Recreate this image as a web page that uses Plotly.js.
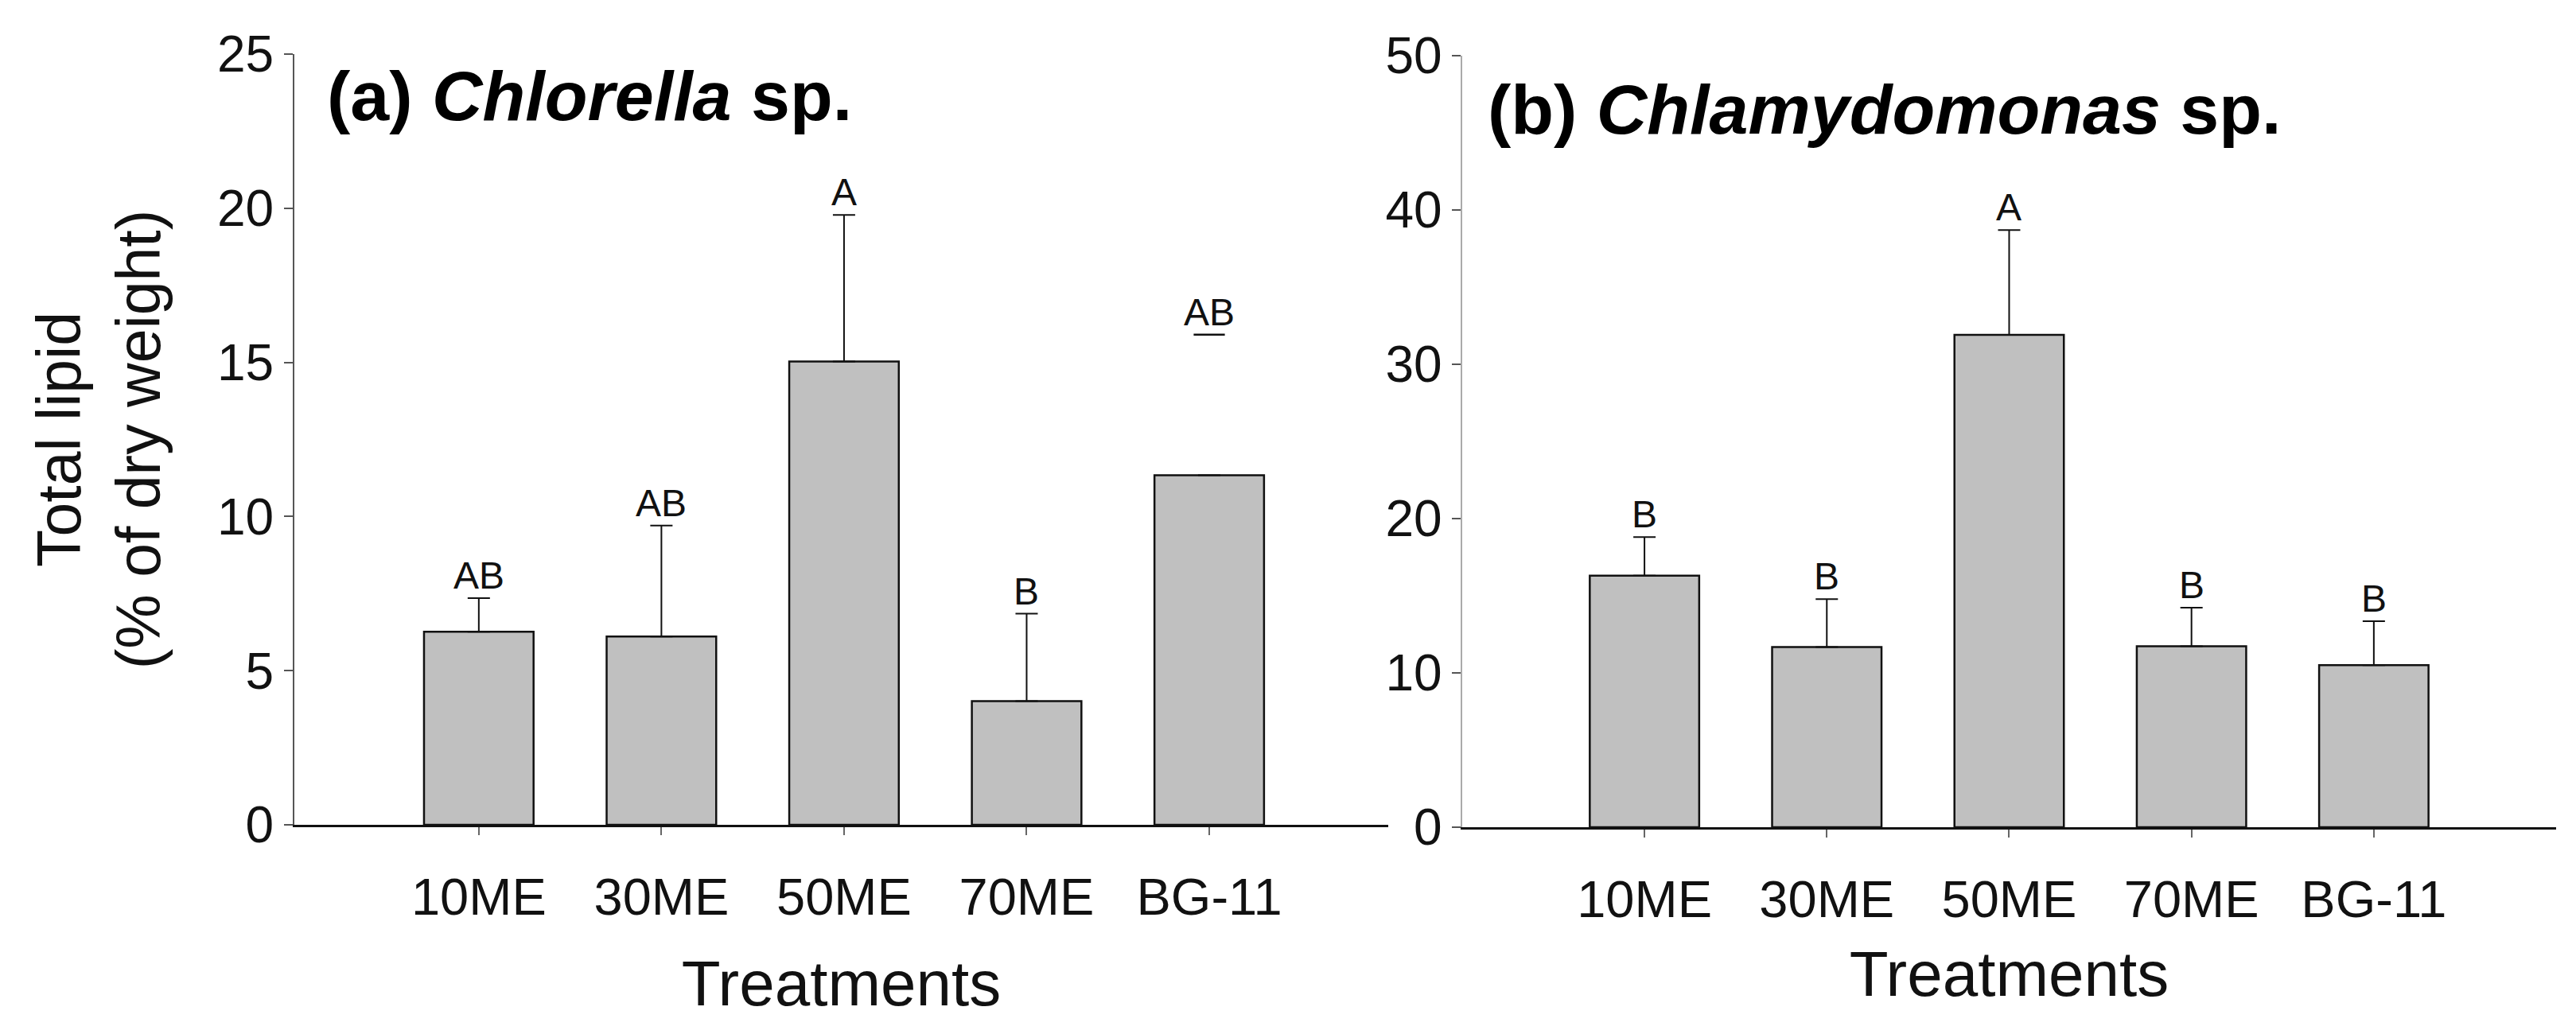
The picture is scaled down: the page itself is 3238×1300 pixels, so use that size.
<!DOCTYPE html>
<html>
<head>
<meta charset="utf-8">
<script src="https://cdn.plot.ly/plotly-3.0.1.min.js"></script>
<style>
  html, body { margin: 0; padding: 0; background: #ffffff; }
  #chart { width: 3238px; height: 1300px; }
</style>
</head>
<body>
<div id="chart"></div>
<script>
// ---- data ----
const categories = ['10ME', '30ME', '50ME', '70ME', 'BG-11'];

const chlorellaMean = [6.26, 6.11, 15.03, 4.01, 11.34];
const chlorellaSE = [1.09, 3.60, 4.75, 2.84, 4.56];
const chlorellaStemShown = [true, true, true, true, false];
const chlorellaLetters = ['AB', 'AB', 'A', 'B', 'AB'];

const chlamyMean = [16.3, 11.68, 31.9, 11.72, 10.5];
const chlamySE = [2.5, 3.1, 6.8, 2.5, 2.85];
const chlamyLetters = ['B', 'B', 'A', 'B', 'B'];

const panelTitles = ['<b>(a) <i>Chlorella</i> sp.</b>', '<b>(b) <i>Chlamydomonas</i> sp.</b>'];
const yTitle = 'Total lipid<br>(% of dry weight)';
const xTitle = 'Treatments';

// ---- styling ----
const FONT = 'Arial, "Liberation Sans", sans-serif';
const barFill = '#c0c0c0';

function barTrace(mean, se, shown, xa, ya) {
  const plus = se.map((v, i) => (shown && !shown[i]) ? null : v);
  return {
    type: 'bar',
    x: categories,
    y: mean,
    xaxis: xa, yaxis: ya,
    width: 0.6,
    marker: { color: barFill, line: { color: '#111', width: 2.5 } },
    error_y: {
      type: 'data', symmetric: false,
      array: plus,
      arrayminus: mean.map(() => 0),
      color: '#111', thickness: 2, width: 14
    },
    showlegend: false,
    hoverinfo: 'x+y'
  };
}

// cap-only marker where the reference shows the cap without its stem
function capOnlyTrace(mean, se, shown, xa, ya) {
  const xs = [], ys = [];
  shown.forEach((s, i) => { if (!s) { xs.push(categories[i]); ys.push(mean[i] + se[i]); } });
  return {
    type: 'scatter', mode: 'markers', x: xs, y: ys, xaxis: xa, yaxis: ya,
    marker: { symbol: 'line-ew-open', size: 28, color: '#111', line: { color: '#111', width: 2.5 } },
    showlegend: false, hoverinfo: 'skip'
  };
}

const traces = [
  barTrace(chlorellaMean, chlorellaSE, chlorellaStemShown, 'x', 'y'),
  capOnlyTrace(chlorellaMean, chlorellaSE, chlorellaStemShown, 'x', 'y'),
  barTrace(chlamyMean, chlamySE, null, 'x2', 'y2')
];

const annotations = [];
function addLetters(mean, se, letters, xr, yr) {
  letters.forEach((t, i) => {
    annotations.push({
      x: categories[i], y: mean[i] + se[i], xref: xr, yref: yr,
      text: t, showarrow: false, yanchor: 'bottom', xanchor: 'center', yshift: 0,
      font: { family: FONT, size: 48, color: '#111' }
    });
  });
}
addLetters(chlorellaMean, chlorellaSE, chlorellaLetters, 'x', 'y');
addLetters(chlamyMean, chlamySE, chlamyLetters, 'x2', 'y2');

annotations.push({
  text: panelTitles[0], xref: 'paper', yref: 'paper', x: 0.1263, y: 0.907,
  xanchor: 'left', yanchor: 'middle', showarrow: false,
  font: { family: FONT, size: 88, color: '#000' }
});
annotations.push({
  text: panelTitles[1], xref: 'paper', yref: 'paper', x: 0.5769, y: 0.8946,
  xanchor: 'left', yanchor: 'middle', showarrow: false,
  font: { family: FONT, size: 88, color: '#000' }
});

const xCommon = {
  type: 'category',
  showline: true, linecolor: '#111', linewidth: 3,
  ticks: 'outside', ticklen: 10, tickwidth: 2, tickcolor: '#666',
  ticklabelstandoff: 22,
  tickfont: { family: FONT, size: 65, color: '#111' },
  showgrid: false, zeroline: false, fixedrange: true
};
const yCommon = {
  ticks: 'outside', ticklen: 11, tickwidth: 2,
  tickfont: { family: FONT, size: 64, color: '#111' },
  showline: true, showgrid: false, zeroline: false, fixedrange: true
};

const layout = {
  width: 3238, height: 1300,
  margin: { l: 0, r: 0, t: 0, b: 0 },
  paper_bgcolor: '#ffffff', plot_bgcolor: '#ffffff',
  bargap: 0.4,
  font: { family: FONT, color: '#111' },
  xaxis: Object.assign({}, xCommon, {
    domain: [0.11427, 0.5389], range: [-1.01, 4.98], anchor: 'y',
    title: { text: xTitle, font: { family: FONT, size: 80, color: '#111' }, standoff: 45 }
  }),
  yaxis: Object.assign({}, yCommon, {
    domain: [0.2023, 0.9477], range: [0, 25], dtick: 5, anchor: 'x',
    linecolor: '#555', linewidth: 2, tickcolor: '#555',
    title: { text: yTitle, font: { family: FONT, size: 77, color: '#111' }, standoff: 46 }
  }),
  xaxis2: Object.assign({}, xCommon, {
    domain: [0.5676, 0.9923], range: [-1, 5.0], anchor: 'y2',
    title: { text: xTitle, font: { family: FONT, size: 80, color: '#111' }, standoff: 30 }
  }),
  yaxis2: Object.assign({}, yCommon, {
    domain: [0.2, 0.9462], range: [0, 50], dtick: 10, anchor: 'x2',
    linecolor: '#aaaaaa', linewidth: 1.5, tickcolor: '#555'
  }),
  annotations: annotations
};

Plotly.newPlot('chart', traces, layout, { staticPlot: true, displayModeBar: false });
</script>
</body>
</html>
